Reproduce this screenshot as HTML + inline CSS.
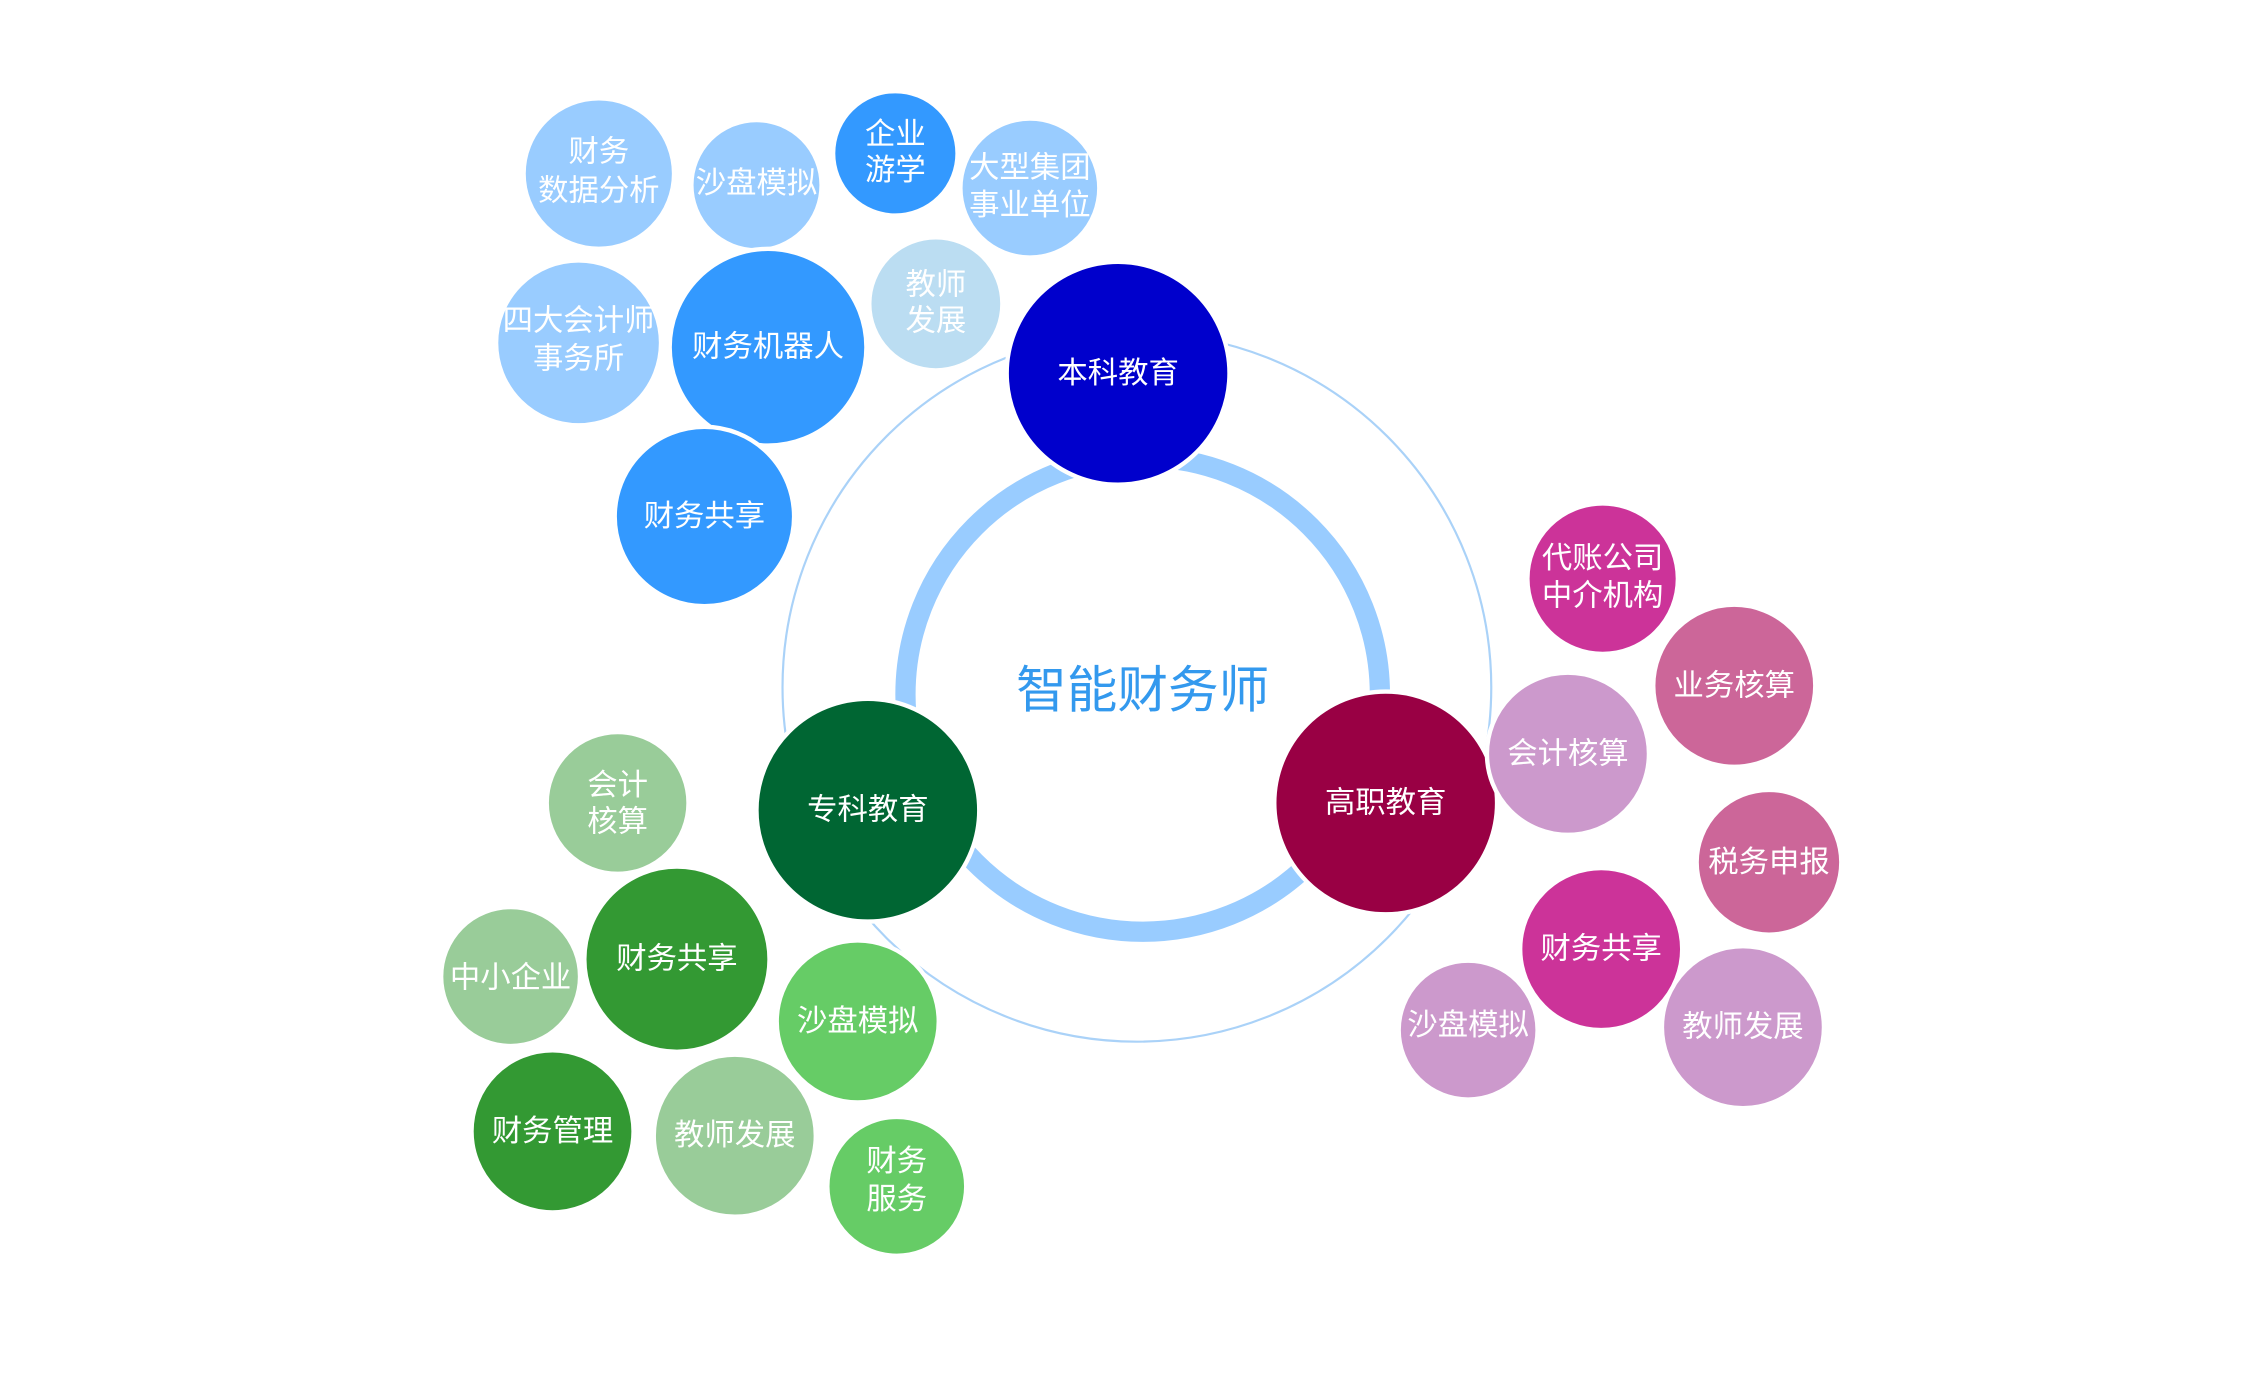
<!DOCTYPE html>
<html><head><meta charset="utf-8"><style>
html,body{margin:0;padding:0;background:#fff;}
svg{display:block;}
text{font-family:"Liberation Sans","Noto Sans CJK SC",sans-serif;fill:#fff;text-anchor:middle;dominant-baseline:central;font-size:21px;}
</style></head><body>
<svg width="2268" height="1386" viewBox="0 0 1568 958" preserveAspectRatio="none" xmlns="http://www.w3.org/2000/svg">
<rect width="1568" height="958" fill="#fff"/>
<circle cx="786" cy="475" r="245" fill="none" stroke="#aad2f8" stroke-width="1.5"/>
<circle cx="790" cy="480" r="164" fill="none" stroke="#99ccff" stroke-width="14"/>
<text x="790" y="477" style="fill:#3399ee;font-size:35px">智能财务师</text>
<g stroke="#fff" stroke-width="3">
<circle cx="414" cy="120" r="52" fill="#99ccff"/>
<circle cx="523" cy="128" r="45" fill="#99ccff"/>
<circle cx="619" cy="106" r="43" fill="#3399ff"/>
<circle cx="712" cy="130" r="48" fill="#99ccff"/>
<circle cx="647" cy="210" r="46" fill="#bbddf2"/>
<circle cx="400" cy="237" r="57" fill="#99ccff"/>
<circle cx="531" cy="240" r="68" fill="#3399ff"/>
<circle cx="487" cy="357" r="62" fill="#3399ff"/>
<circle cx="773" cy="258" r="77" fill="#0000cc"/>
<circle cx="600" cy="560" r="77" fill="#006633"/>
<circle cx="958" cy="555" r="77" fill="#990044"/>
<circle cx="1108" cy="400" r="52" fill="#cc3399"/>
<circle cx="1199" cy="474" r="56" fill="#cc6699"/>
<circle cx="1084" cy="521" r="56" fill="#cc99cc"/>
<circle cx="1223" cy="596" r="50" fill="#cc6699"/>
<circle cx="1015" cy="712" r="48" fill="#cc99cc"/>
<circle cx="1205" cy="710" r="56" fill="#cc99cc"/>
<circle cx="1107" cy="656" r="56" fill="#cc3399"/>
<circle cx="427" cy="555" r="49" fill="#99cc99"/>
<circle cx="353" cy="675" r="48" fill="#99cc99"/>
<circle cx="468" cy="663" r="64" fill="#339933"/>
<circle cx="593" cy="706" r="56" fill="#66cc66"/>
<circle cx="382" cy="782" r="56" fill="#339933"/>
<circle cx="508" cy="785" r="56" fill="#99cc99"/>
<circle cx="620" cy="820" r="48" fill="#66cc66"/>
</g>
<text x="414" y="105">财务</text><text x="414" y="132">数据分析</text>
<text x="523" y="127">沙盘模拟</text>
<text x="619" y="93">企业</text><text x="619" y="118">游学</text>
<text x="712" y="116">大型集团</text><text x="712" y="142">事业单位</text>
<text x="647" y="197">教师</text><text x="647" y="222">发展</text>
<text x="400" y="222">四大会计师</text><text x="400" y="248">事务所</text>
<text x="531" y="240">财务机器人</text>
<text x="487" y="357">财务共享</text>
<text x="773" y="258">本科教育</text>
<text x="600" y="560">专科教育</text>
<text x="958" y="555">高职教育</text>
<text x="1108" y="386">代账公司</text><text x="1108" y="412">中介机构</text>
<text x="1199" y="474">业务核算</text>
<text x="1084" y="521">会计核算</text>
<text x="1223" y="596">税务申报</text>
<text x="1015" y="709">沙盘模拟</text>
<text x="1205" y="710">教师发展</text>
<text x="1107" y="656">财务共享</text>
<text x="427" y="543">会计</text><text x="427" y="568">核算</text>
<text x="353" y="676">中小企业</text>
<text x="468" y="663">财务共享</text>
<text x="593" y="706">沙盘模拟</text>
<text x="382" y="782">财务管理</text>
<text x="508" y="785">教师发展</text>
<text x="620" y="803">财务</text><text x="620" y="829">服务</text>
</svg>
</body></html>
